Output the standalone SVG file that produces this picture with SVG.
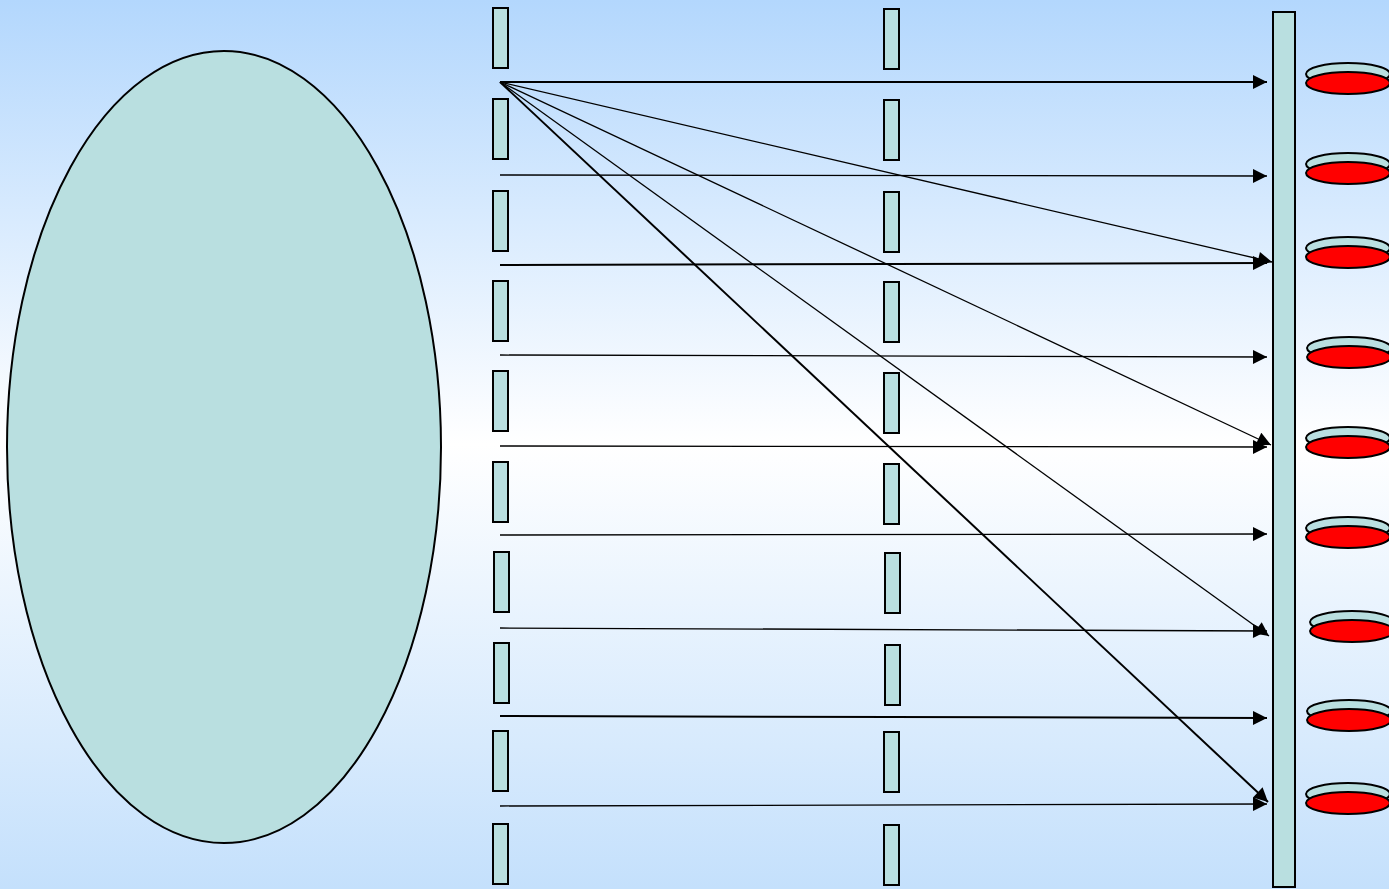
<svg xmlns="http://www.w3.org/2000/svg" width="1389" height="889" viewBox="0 0 1389 889">
<defs>
<linearGradient id="bg" x1="0" y1="0" x2="0" y2="1">
<stop offset="0" stop-color="#b3d7fd"/>
<stop offset="0.5" stop-color="#ffffff"/>
<stop offset="1" stop-color="#c4e0fc"/>
</linearGradient>
<marker id="ah" viewBox="0 0 10 10" refX="10" refY="5" markerWidth="15" markerHeight="14" markerUnits="userSpaceOnUse" orient="auto">
<path d="M0,0 L10,5 L0,10 Z" fill="#000"/>
</marker>
<style>
.slit{fill:#b9dfe0;stroke:#000;stroke-width:2}
.ray{stroke:#000;stroke-width:1.3;fill:none;marker-end:url(#ah)}
.thick{stroke-width:2}
.cy{fill:#b9dfe0;stroke:#000;stroke-width:2}
.rd{fill:#ff0000;stroke:#000;stroke-width:2}
</style>
</defs>
<rect width="1389" height="889" fill="url(#bg)"/>
<g id="source"><ellipse cx="224" cy="447" rx="217" ry="396" fill="#b9dfe0" stroke="#000" stroke-width="2"/></g>
<g id="slits1">
<rect class="slit" x="493" y="8" width="15" height="60"/>
<rect class="slit" x="493" y="99" width="15" height="60"/>
<rect class="slit" x="493" y="191" width="15" height="60"/>
<rect class="slit" x="493" y="281" width="15" height="60"/>
<rect class="slit" x="493" y="371" width="15" height="60"/>
<rect class="slit" x="493" y="462" width="15" height="60"/>
<rect class="slit" x="494" y="552" width="15" height="60"/>
<rect class="slit" x="494" y="643" width="15" height="60"/>
<rect class="slit" x="493" y="731" width="15" height="60"/>
<rect class="slit" x="493" y="824" width="15" height="60"/>
</g>
<g id="slits2">
<rect class="slit" x="884" y="9" width="15" height="60"/>
<rect class="slit" x="884" y="100" width="15" height="60"/>
<rect class="slit" x="884" y="192" width="15" height="60"/>
<rect class="slit" x="884" y="282" width="15" height="60"/>
<rect class="slit" x="884" y="373" width="15" height="60"/>
<rect class="slit" x="884" y="464" width="15" height="60"/>
<rect class="slit" x="885" y="553" width="15" height="60"/>
<rect class="slit" x="885" y="645" width="15" height="60"/>
<rect class="slit" x="884" y="732" width="15" height="60"/>
<rect class="slit" x="884" y="825" width="15" height="60"/>
</g>
<g id="screen"><rect class="slit" x="1273" y="12" width="22" height="875"/></g>
<g id="detectors">
<g><ellipse class="cy" cx="1348" cy="74" rx="42" ry="11"/><ellipse class="rd" cx="1348" cy="83" rx="42" ry="11"/></g>
<g><ellipse class="cy" cx="1348" cy="164" rx="42" ry="11"/><ellipse class="rd" cx="1348" cy="173" rx="42" ry="11"/></g>
<g><ellipse class="cy" cx="1348" cy="248" rx="42" ry="11"/><ellipse class="rd" cx="1348" cy="257" rx="42" ry="11"/></g>
<g><ellipse class="cy" cx="1349" cy="348" rx="42" ry="11"/><ellipse class="rd" cx="1349" cy="357" rx="42" ry="11"/></g>
<g><ellipse class="cy" cx="1348" cy="438" rx="42" ry="11"/><ellipse class="rd" cx="1348" cy="447" rx="42" ry="11"/></g>
<g><ellipse class="cy" cx="1348" cy="528" rx="42" ry="11"/><ellipse class="rd" cx="1348" cy="537" rx="42" ry="11"/></g>
<g><ellipse class="cy" cx="1352" cy="622" rx="42" ry="11"/><ellipse class="rd" cx="1352" cy="631" rx="42" ry="11"/></g>
<g><ellipse class="cy" cx="1349" cy="711" rx="42" ry="11"/><ellipse class="rd" cx="1349" cy="720" rx="42" ry="11"/></g>
<g><ellipse class="cy" cx="1348" cy="794" rx="42" ry="11"/><ellipse class="rd" cx="1348" cy="803" rx="42" ry="11"/></g>
</g>
<g id="connectors">
<line class="ray thick" x1="500" y1="82" x2="1267" y2="82"/>
<line class="ray" x1="500" y1="175" x2="1267" y2="176"/>
<line class="ray thick" x1="500" y1="265" x2="1267" y2="263"/>
<line class="ray" x1="500" y1="355" x2="1267" y2="357"/>
<line class="ray" x1="500" y1="446" x2="1267" y2="447"/>
<line class="ray" x1="500" y1="535" x2="1267" y2="534"/>
<line class="ray" x1="500" y1="628" x2="1267" y2="631"/>
<line class="ray thick" x1="500" y1="716" x2="1267" y2="718"/>
<line class="ray" x1="500" y1="806" x2="1267" y2="804"/>
<line class="ray" x1="500" y1="82" x2="1272" y2="262"/>
<line class="ray" x1="500" y1="82" x2="1271" y2="445"/>
<line class="ray" x1="500" y1="82" x2="1269" y2="636"/>
<line class="ray thick" x1="500" y1="82" x2="1268" y2="802"/>
</g>
</svg>
